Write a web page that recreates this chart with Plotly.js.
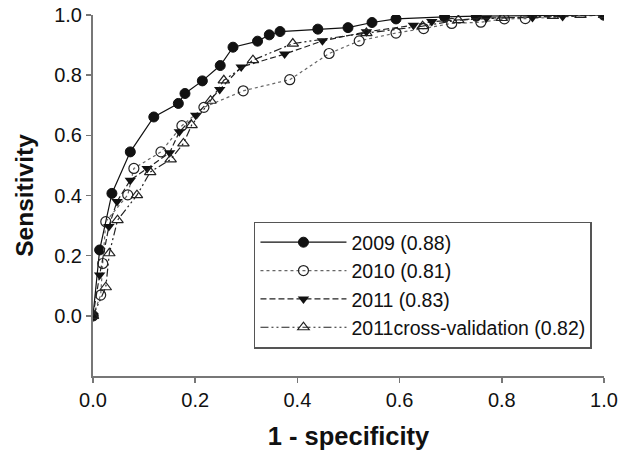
<!DOCTYPE html>
<html>
<head>
<meta charset="utf-8">
<script src="https://cdn.plot.ly/plotly-3.0.1.min.js"></script>
<style>html,body{margin:0;padding:0;background:#fff;}#chart{width:625px;height:452px;}</style>
</head>
<body>
<div id="chart"></div>
<script>
// ROC curves: x = 1 - specificity, y = sensitivity
const seriesNames = ["2009 (0.88)", "2010 (0.81)", "2011 (0.83)", "2011cross-validation (0.82)"];

const x2009 = [0, 0.013, 0.037, 0.073, 0.119, 0.167, 0.18, 0.214, 0.249, 0.274, 0.322, 0.345, 0.366, 0.44, 0.499, 0.546, 0.593, 0.688, 0.75, 1.0];
const y2009 = [0, 0.219, 0.407, 0.545, 0.661, 0.706, 0.739, 0.781, 0.832, 0.893, 0.913, 0.934, 0.945, 0.953, 0.958, 0.975, 0.987, 0.994, 0.996, 1.0];

const x2010 = [0, 0.015, 0.019, 0.025, 0.068, 0.08, 0.133, 0.174, 0.217, 0.294, 0.385, 0.462, 0.521, 0.593, 0.647, 0.702, 0.759, 0.805, 0.846, 1.0];
const y2010 = [0, 0.069, 0.174, 0.313, 0.402, 0.49, 0.545, 0.632, 0.693, 0.748, 0.785, 0.872, 0.914, 0.94, 0.955, 0.972, 0.976, 0.987, 0.988, 1.0];

const x2011 = [0, 0.013, 0.031, 0.047, 0.073, 0.106, 0.15, 0.169, 0.201, 0.248, 0.29, 0.375, 0.449, 0.535, 0.627, 0.663, 0.77, 0.86, 0.919, 1.0];
const y2011 = [0, 0.136, 0.297, 0.38, 0.451, 0.49, 0.542, 0.612, 0.667, 0.752, 0.827, 0.87, 0.914, 0.944, 0.966, 0.978, 0.99, 0.992, 0.995, 1.0];

const xCV = [0, 0.025, 0.032, 0.048, 0.086, 0.112, 0.152, 0.177, 0.193, 0.23, 0.256, 0.313, 0.391, 0.535, 0.645, 0.715, 0.80, 0.90, 0.954, 1.0];
const yCV = [0, 0.095, 0.208, 0.318, 0.401, 0.478, 0.52, 0.573, 0.634, 0.715, 0.783, 0.85, 0.905, 0.94, 0.963, 0.983, 0.99, 0.997, 1.0, 1.0];

const tickVals = [0, 0.2, 0.4, 0.6, 0.8, 1.0];
const tickText = ["0.0", "0.2", "0.4", "0.6", "0.8", "1.0"];

const FONT = "Liberation Sans, Arial, sans-serif";

const traces = [
  {x: x2009, y: y2009, name: seriesNames[0], mode: "lines+markers",
   line: {color: "#111", width: 1.2, dash: "solid"},
   marker: {symbol: "circle", size: 10, color: "#111", line: {color: "#111", width: 1}}},
  {x: x2010, y: y2010, name: seriesNames[1], mode: "lines+markers",
   line: {color: "#666", width: 1.2, dash: "dot"},
   marker: {symbol: "circle-open", size: 10, color: "#222", line: {width: 1.2}}},
  {x: x2011, y: y2011, name: seriesNames[2], mode: "lines+markers",
   line: {color: "#222", width: 1.2, dash: "6px,3px"},
   marker: {symbol: "triangle-down", size: 10, color: "#111"}},
  {x: xCV, y: yCV, name: seriesNames[3], mode: "lines+markers",
   line: {color: "#222", width: 1.2, dash: "8px,3px,2px,3px,2px,3px"},
   marker: {symbol: "triangle-up-open", size: 10, color: "#222", line: {width: 1.2}}}
];

const axisCommon = {
  showgrid: false, zeroline: false, showline: true, linecolor: "#777", linewidth: 2,
  ticks: "outside", ticklen: 5, tickwidth: 1.5, tickcolor: "#777",
  tickvals: tickVals, ticktext: tickText,
  tickfont: {family: FONT, size: 20, color: "#111"}
};

const layout = {
  width: 625, height: 452,
  margin: {l: 92.5, r: 20.5, t: 15, b: 76},
  paper_bgcolor: "#fff", plot_bgcolor: "#fff",
  showlegend: true,
  xaxis: Object.assign({}, axisCommon, {range: [0, 1],
    title: {text: "1 - specificity", font: {family: FONT, size: 25.5, color: "#111", weight: "bold"}, standoff: 17}}),
  yaxis: Object.assign({}, axisCommon, {range: [-0.2, 1],
    title: {text: "Sensitivity", font: {family: FONT, size: 24.5, color: "#111", weight: "bold"}, standoff: 14}}),
  legend: {x: 0.315, y: 0.252, xanchor: "left", yanchor: "middle",
    bgcolor: "#fff", bordercolor: "#555", borderwidth: 1.5,
    font: {family: FONT, size: 19.5, color: "#111"},
    itemwidth: 86, tracegroupgap: 0}
};

Plotly.newPlot("chart", traces, layout, {staticPlot: true, displayModeBar: false});
</script>
</body>
</html>
